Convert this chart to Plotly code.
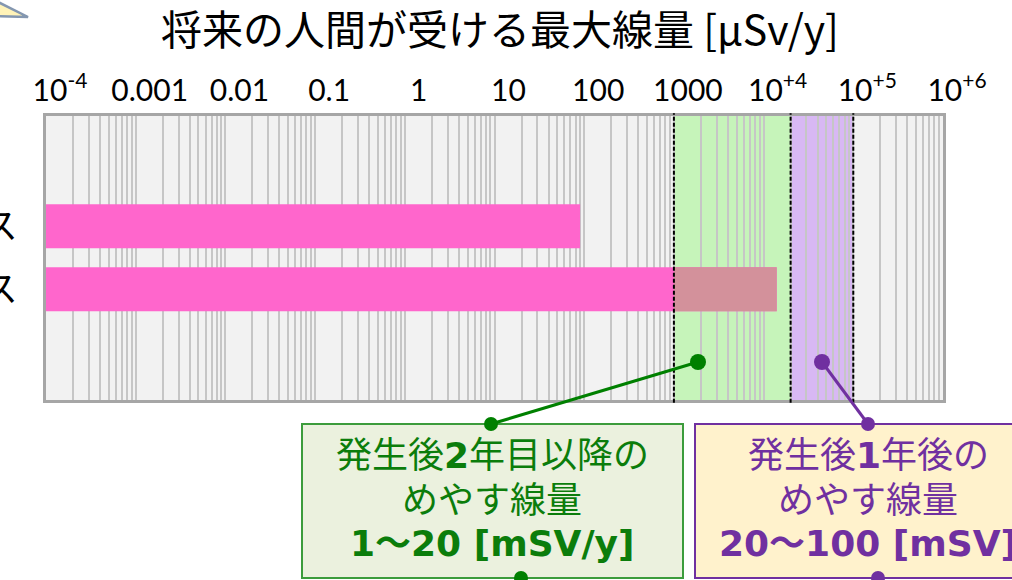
import plotly.graph_objects as go

# data (µSv/y)
cases = ["基本ケース", "変動ケース"]
max_dose = [90, 14000]
band_edges = [1000, 20000, 100000]        # 1 mSv, 20 mSv, 100 mSv
band_fills = ["rgba(100,248,61,0.31)", "rgba(142,19,250,0.26)"]
tick_vals = [1e-4, 1e-3, 1e-2, 1e-1, 1, 10, 100, 1000, 1e4, 1e5, 1e6]
tick_text = ["10<sup>-4</sup>", "0.001", "0.01", "0.1", "1", "10", "100",
             "1000", "10<sup>+4</sup>", "10<sup>+5</sup>", "10<sup>+6</sup>"]
minor_vals = [m * 10 ** k for k in range(-4, 6) for m in range(2, 10)]

green_lines = ["発生後<b>2</b>年目以降の", "めやす線量", "<b>1～20 [mSV/y]</b>"]
purple_lines = ["発生後<b>1</b>年後の", "めやす線量", "<b>20～100 [mSV]</b>"]

JP = "Noto Sans CJK JP"
MIX = "DejaVu Sans, Noto Sans CJK JP"
PINK = "#FF66CC"
OVERLAP = "#D3919B"
GREEN = "#0B7D0B"
PURPLE = "#7030A0"

# geometry in pixels (page margin removed below, so figure px == screen px)
FW, FH = 1012, 580
L, R, T, B = 46, 69, 116, 180
PW, PH = FW - L - R, FH - T - B


def px(x):
    return (x - L) / PW


def py(y):
    return (FH - B - y) / PH


fig = go.Figure()

fig.add_trace(
    go.Bar(
        y=cases,
        x=max_dose,
        orientation="h",
        width=0.7,
        marker=dict(color=PINK, line=dict(width=0)),
        hoverinfo="skip",
    )
)

# part of each bar that lies inside the 1-20 mSv band
over = [v - band_edges[0] if v > band_edges[0] else None for v in max_dose]
fig.add_trace(
    go.Bar(
        y=cases,
        x=over,
        base=band_edges[0],
        orientation="h",
        width=0.7,
        marker=dict(color=OVERLAP, line=dict(width=0)),
        hoverinfo="skip",
    )
)

shapes = []
for i, fill in enumerate(band_fills):
    shapes.append(dict(type="rect", xref="x", yref="paper",
                       x0=band_edges[i], x1=band_edges[i + 1], y0=0, y1=1,
                       fillcolor=fill, line=dict(width=0), layer="between"))
for edge in band_edges:
    shapes.append(dict(type="line", xref="x", yref="paper",
                       x0=edge, x1=edge, y0=-0.01, y1=1.01,
                       line=dict(color="black", width=2, dash="4px,2px")))

# call-out boxes
shapes.append(dict(type="rect", xref="paper", yref="paper",
                   x0=px(302), x1=px(683), y0=py(578), y1=py(424),
                   fillcolor="#EBF1DE", line=dict(color="#3C9C3C", width=2)))
shapes.append(dict(type="rect", xref="paper", yref="paper",
                   x0=px(695), x1=px(1045), y0=py(578), y1=py(424),
                   fillcolor="#FFF2CC", line=dict(color=PURPLE, width=2)))

# connector lines and dots
links = [((698, 362), (491, 424), "#008000"),
         ((822, 362), (868, 424), PURPLE)]
for (xa, ya), (xb, yb), col in links:
    shapes.append(dict(type="line", xref="paper", yref="paper",
                       x0=px(xa), y0=py(ya), x1=px(xb), y1=py(yb),
                       line=dict(color=col, width=3)))
dots = [(698, 362, 8, "#008000"), (491, 424, 7, "#008000"), (521, 578, 7, "#008000"),
        (822, 362, 8, PURPLE), (868, 424, 7, PURPLE), (878, 578, 7, PURPLE)]
for x, y, r, col in dots:
    shapes.append(dict(type="circle", xref="paper", yref="paper",
                       xsizemode="pixel", ysizemode="pixel",
                       xanchor=px(x), yanchor=py(y),
                       x0=-r, x1=r, y0=-r, y1=r,
                       fillcolor=col, line=dict(width=0)))

# arrow tip poking in from the top-left corner
shapes.append(dict(type="path", xref="paper", yref="paper",
                   path=f"M {px(-14)} {py(-4)} L {px(28)} {py(17)} L {px(-14)} {py(16)} Z",
                   fillcolor="#FFF3B8", line=dict(color="#8497B0", width=2.5)))

annotations = []
for lines, cx, col in [(green_lines, 492, GREEN), (purple_lines, 868, PURPLE)]:
    for txt, cy in zip(lines, [455, 500, 543]):
        annotations.append(dict(text=txt, xref="paper", yref="paper",
                                x=px(cx), y=py(cy), xanchor="center", yanchor="middle",
                                showarrow=False,
                                font=dict(family=MIX, size=36, color=col)))

fig.update_layout(
    width=FW,
    height=FH,
    margin=dict(l=L, r=R, t=T, b=B, autoexpand=False),
    paper_bgcolor="white",
    plot_bgcolor="#F2F2F2",
    barmode="overlay",
    showlegend=False,
    title=dict(text="将来の人間が受ける最大線量 [μSv/y]",
               x=500 / FW, xanchor="center", y=1 - 31 / FH, yanchor="middle",
               font=dict(family=JP, size=41, color="black")),
    xaxis=dict(
        type="log",
        range=[-4, 6],
        side="top",
        tickvals=tick_vals,
        ticktext=tick_text,
        tickfont=dict(family="Lato", size=30, color="black"),
        ticks="",
        ticklabelshift=14,
        ticklabelstandoff=0,
        showgrid=True,
        gridcolor="#C6C6C6",
        gridwidth=1.5,
        minor=dict(tickvals=minor_vals, showgrid=True,
                   gridcolor="#C6C6C6", gridwidth=1.5, ticks=""),
        showline=True,
        linecolor="#A6A6A6",
        linewidth=3,
        mirror=True,
        zeroline=False,
        fixedrange=True,
    ),
    yaxis=dict(
        type="category",
        categoryorder="array",
        categoryarray=cases,
        range=[2.76, -1.75],
        tickfont=dict(family=JP, size=36, color="black"),
        ticks="",
        ticklabelstandoff=18,
        showgrid=False,
        showline=True,
        linecolor="#A6A6A6",
        linewidth=3,
        mirror=True,
        fixedrange=True,
    ),
    shapes=shapes,
    annotations=annotations,
)

fig.write_html(
    "out.html",
    config={"displayModeBar": False},
    post_script="document.body.style.margin = '0';",
)
